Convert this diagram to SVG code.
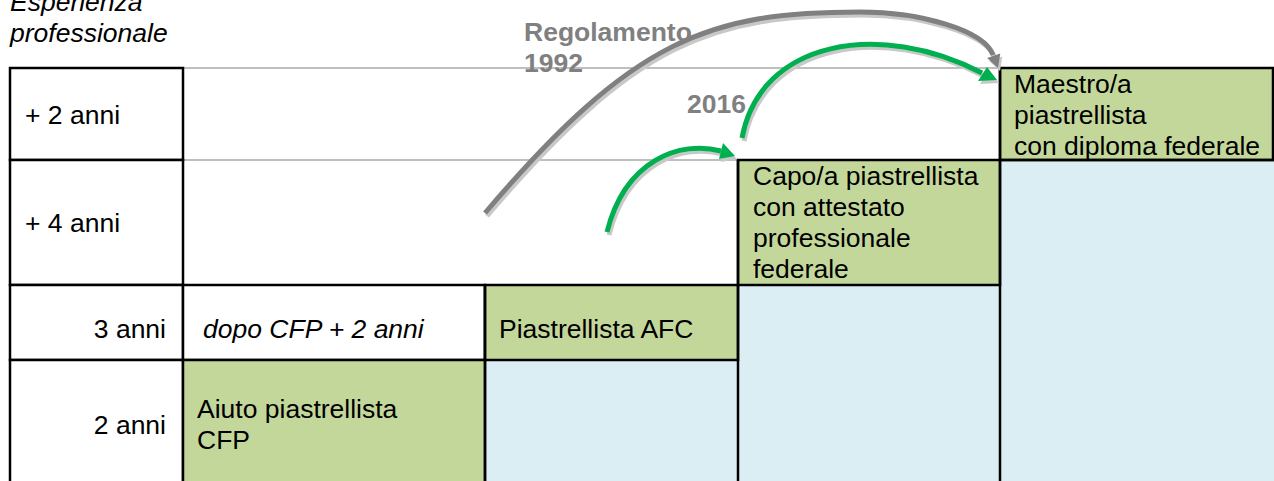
<svg xmlns="http://www.w3.org/2000/svg" width="1274" height="481" viewBox="0 0 1274 481">
<style>
  text { font-family: "Liberation Sans", Arial, sans-serif; font-size: 26.5px; fill: #000; }
  .it { font-style: italic; }
  .lbl { font-weight: bold; fill: #808080; }
  .cell { stroke: #000; stroke-width: 2.5; }
  .white { fill: #fff; }
  .green { fill: #c4d79b; }
  .blue { fill: #daeef3; }
  .grid { stroke: #bfbfbf; stroke-width: 2; fill: none; }
  .shadow { fill: none; stroke: #c8c8c8; stroke-width: 5; stroke-linecap: butt; }
  .gray { fill: none; stroke: #808080; stroke-width: 5; }
  .grn { fill: none; stroke: #00b050; stroke-width: 5; }
</style>
<rect width="1274" height="481" fill="#fff"/>

<g id="blue-areas">
  <rect class="blue" x="485" y="360" width="253" height="121"/>
  <rect class="blue" x="738" y="285" width="262" height="196"/>
  <rect class="blue" x="1000" y="160" width="274" height="321"/>
</g>

<g id="gridlines">
  <line class="grid" x1="183" y1="68" x2="1000" y2="68"/>
  <line class="grid" x1="183" y1="160" x2="738" y2="160"/>
</g>

<text class="it" x="10" y="11">Esperienza</text>
<text class="it" x="10" y="42">professionale</text>

<g id="row-plus2">
  <rect class="cell white" x="10" y="68" width="173" height="92"/>
  <text x="25" y="124">+ 2 anni</text>
</g>
<g id="row-plus4">
  <rect class="cell white" x="10" y="160" width="173" height="125"/>
  <text x="25" y="232">+ 4 anni</text>
</g>
<g id="row-3anni">
  <rect class="cell white" x="10" y="285" width="173" height="75"/>
  <text x="166" y="338" text-anchor="end">3 anni</text>
</g>
<g id="row-2anni">
  <rect class="cell white" x="10" y="360" width="173" height="125"/>
  <text x="166" y="434" text-anchor="end">2 anni</text>
</g>
<g id="dopo-cfp">
  <rect class="cell white" x="183" y="285" width="302" height="75"/>
  <text class="it" x="203" y="338">dopo CFP + 2 anni</text>
</g>
<g id="aiuto">
  <rect class="cell green" x="183" y="360" width="302" height="125"/>
  <text x="197" y="418">Aiuto piastrellista</text>
  <text x="197" y="449">CFP</text>
</g>
<g id="afc">
  <rect class="cell green" x="485" y="285" width="253" height="75"/>
  <text x="499" y="338">Piastrellista AFC</text>
</g>
<g id="capo">
  <rect class="cell green" x="738" y="160" width="262" height="125"/>
  <text x="753" y="185">Capo/a piastrellista</text>
  <text x="753" y="216">con attestato</text>
  <text x="753" y="247">professionale</text>
  <text x="753" y="278">federale</text>
</g>
<g id="maestro">
  <rect class="cell green" x="1000" y="68" width="273" height="92"/>
  <text x="1014" y="93">Maestro/a</text>
  <text x="1014" y="124">piastrellista</text>
  <text x="1014" y="155">con diploma federale</text>
</g>

<g id="borders" stroke="#000" stroke-width="2.5">
  <line x1="485" y1="285" x2="485" y2="481"/>
  <line x1="738" y1="160" x2="738" y2="481"/>
  <line x1="1000" y1="68" x2="1000" y2="481"/>
  <line x1="1000" y1="160" x2="1274" y2="160"/>
</g>

<g id="connectors">
  <g id="shadows" transform="translate(2,3)">
    <path class="shadow" d="M485,213 C633.5,38 710,12 860,12 C920,12 984,30 993,55"/>
    <polygon fill="#c8c8c8" points="998,68 1000.3,53.5 987.1,58.1"/>
    <path class="shadow" d="M607,232 C625,160 680,140 721,151"/>
    <polygon fill="#c8c8c8" points="735,156 723,143 719,159"/>
    <path class="shadow" d="M742,138 C760,40 880,20 982,73"/>
    <polygon fill="#c8c8c8" points="997,80 987,67 978,81"/>
  </g>
  <g id="arrow-1992">
    <path class="gray" d="M485,213 C633.5,38 710,12 860,12 C920,12 984,30 993,55"/>
    <polygon fill="#808080" points="998,68 1000.3,53.5 987.1,58.1"/>
  </g>
  <g id="arrow-2016-a">
    <path class="grn" d="M607,232 C625,160 680,140 721,151"/>
    <polygon fill="#00b050" points="735,156 723,143 719,159"/>
  </g>
  <g id="arrow-2016-b">
    <path class="grn" d="M742,138 C760,40 880,20 982,73"/>
    <polygon fill="#00b050" points="997,80 987,67 978,81"/>
  </g>
  <text class="lbl" x="524" y="41">Regolamento</text>
  <text class="lbl" x="524" y="72">1992</text>
  <text class="lbl" x="687" y="113">2016</text>
</g>
</svg>
